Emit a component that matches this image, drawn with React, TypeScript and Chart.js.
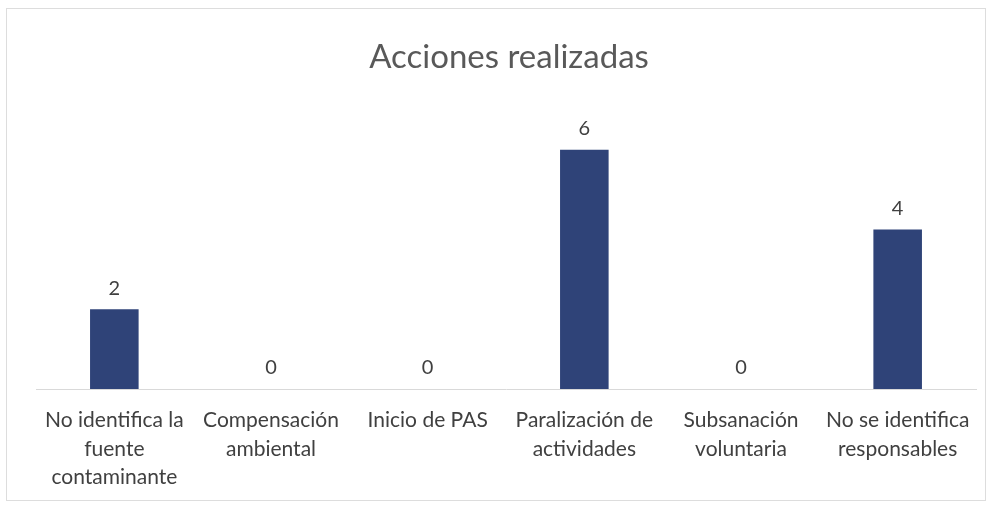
import React, { useEffect, useRef } from "react";
import { Chart, registerables } from "chart.js";

Chart.register(...registerables);

const categories: string[][] = [
  ["No identifica la", "fuente", "contaminante"],
  ["Compensación", "ambiental"],
  ["Inicio de PAS"],
  ["Paralización de", "actividades"],
  ["Subsanación", "voluntaria"],
  ["No se identifica", "responsables"],
];
const values: number[] = [2, 0, 0, 6, 0, 4];
const title = "Acciones realizadas";

const FONT = "Lato, 'Open Sans', sans-serif";

export default function App() {
  const ref = useRef<HTMLCanvasElement>(null);
  useEffect(() => {
    document.body.style.margin = "0";
    const labelPlugin = {
      id: "extras",
      afterDatasetsDraw(chart: any) {
        const ctx = chart.ctx;
        const meta = chart.getDatasetMeta(0);
        ctx.save();
        ctx.fillStyle = "#404040";
        ctx.font = `20px ${FONT}`;
        ctx.textAlign = "center";
        ctx.textBaseline = "middle";
        meta.data.forEach((bar: any, i: number) => {
          ctx.fillText(String(values[i]), bar.x, bar.y - 21);
        });
        ctx.fillStyle = "#595959";
        ctx.font = `33px ${FONT}`;
        ctx.fillText(title, 509, 57);
        ctx.strokeStyle = "#dddddd";
        ctx.lineWidth = 1;
        ctx.strokeRect(6.5, 8.5, 979, 492);
        ctx.restore();
      },
    };
    const chart = new Chart(ref.current!, {
      type: "bar",
      data: {
        labels: categories,
        datasets: [
          {
            data: values,
            backgroundColor: "#2f4378",
            categoryPercentage: 0.62,
            barPercentage: 0.5,
          },
        ],
      },
      options: {
        animation: false,
        responsive: false,
        layout: { padding: { top: 110, left: 36, right: 18, bottom: 0 } },
        plugins: { legend: { display: false }, tooltip: { enabled: false } },
        scales: {
          y: { display: false, min: 0, max: 7 },
          x: {
            afterFit: (s: any) => {
              s.height = 124;
            },
            grid: { display: false, drawTicks: false },
            border: { display: true, color: "#d9d9d9" },
            ticks: {
              color: "#404040",
              font: { family: FONT, size: 21, lineHeight: 1.36 },
              padding: 17,
              maxRotation: 0,
              autoSkip: false,
            },
          },
        },
      },
      plugins: [labelPlugin],
    });
    return () => chart.destroy();
  }, []);
  return (
    <div style={{ width: 994, height: 513, background: "#fff" }}>
      <canvas ref={ref} width={994} height={513} />
    </div>
  );
}
